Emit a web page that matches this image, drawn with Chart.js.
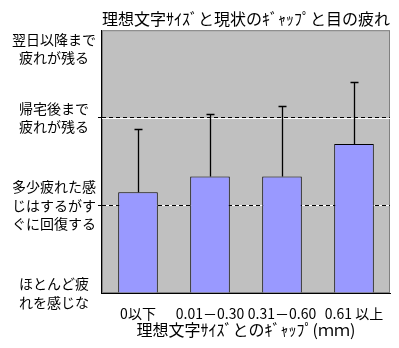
<!DOCTYPE html>
<html>
<head>
  <meta charset="utf-8">
  <title>理想文字ｻｲｽﾞと現状のｷﾞｬｯﾌﾟと目の疲れ</title>
  <script src="https://cdn.jsdelivr.net/npm/chart.js"></script>
  <style>
    html, body { margin: 0; padding: 0; background: #fff; }
    #wrap { width: 399px; height: 348px; position: relative; }
  </style>
</head>
<body>
  <div id="wrap"><canvas id="myChart"></canvas></div>

  <script>
    // ギャップ区分ごとの平均と標準偏差
    const categories = ['0以下', '0.01－0.30', '0.31－0.60', '0.61 以上'];
    const means = [1.15, 1.33, 1.33, 1.70];
    const sds = [0.72, 0.71, 0.81, 0.71];

    // 縦軸 0〜3 の目盛りラベル
    const levelLabels = [
      ['ほとんど疲', 'れを感じな'],
      ['多少疲れた感', 'じはするがす', 'ぐに回復する'],
      ['帰宅後まで', '疲れが残る'],
      ['翌日以降まで', '疲れが残る']
    ];

    Chart.defaults.font.family = "'Noto Sans CJK JP', sans-serif";
    Chart.defaults.color = '#000';

    // グラフ領域の灰色の背景と枠、点線の下地
    const plotBackground = {
      id: 'plotBackground',
      beforeDraw(chart) {
        const { ctx, chartArea: a, scales } = chart;
        ctx.save();
        ctx.fillStyle = '#fff';
        ctx.fillRect(0, 0, chart.width, chart.height);
        ctx.fillStyle = '#c0c0c0';
        ctx.fillRect(a.left, a.top, a.right - a.left, a.bottom - a.top);
        ctx.strokeStyle = '#808080';
        ctx.lineWidth = 1;
        ctx.strokeRect(a.left + 0.5, a.top + 0.5, a.right - a.left - 1, a.bottom - a.top - 1);
        ctx.strokeStyle = '#fff';
        [1, 2].forEach(v => {
          const y = Math.round(scales.y.getPixelForValue(v)) + 0.5;
          ctx.beginPath();
          ctx.moveTo(a.left, y);
          ctx.lineTo(a.right, y);
          ctx.stroke();
        });
        ctx.restore();
      }
    };

    // 上側だけのエラーバー
    const errorBars = {
      id: 'errorBars',
      afterDatasetsDraw(chart) {
        const { ctx, scales } = chart;
        const meta = chart.getDatasetMeta(0);
        ctx.save();
        ctx.strokeStyle = '#000';
        ctx.lineWidth = 1.3;
        meta.data.forEach((bar, i) => {
          const x = Math.round(bar.x) + 0.5;
          const yEnd = Math.round(scales.y.getPixelForValue(means[i] + sds[i])) + 0.5;
          ctx.beginPath();
          ctx.moveTo(x, bar.y);
          ctx.lineTo(x, yEnd);
          ctx.moveTo(x - 4, yEnd);
          ctx.lineTo(x + 4, yEnd);
          ctx.stroke();
        });
        ctx.restore();
      }
    };

    const ctx = document.getElementById('myChart').getContext('2d');
    const myChart = new Chart(ctx, {
      type: 'bar',
      data: {
        labels: categories,
        datasets: [{
          data: means,
          backgroundColor: '#9999ff',
          borderColor: '#000',
          borderWidth: 1,
          barPercentage: 0.55,
          categoryPercentage: 1
        }]
      },
      options: {
        responsive: true,
        maintainAspectRatio: false,
        animation: false,
        layout: { padding: { left: 10, right: 9, top: 0, bottom: 0 } },
        plugins: {
          legend: { display: false },
          tooltip: { enabled: false },
          title: {
            display: true,
            fullSize: false,
            text: '理想文字ｻｲｽﾞと現状のｷﾞｬｯﾌﾟと目の疲れ',
            color: '#000',
            font: { size: 16, weight: 'normal', lineHeight: 1.2 },
            padding: { top: 9, bottom: 2 }
          }
        },
        scales: {
          x: {
            grid: { display: false, drawTicks: false },
            border: { display: true, color: '#000', width: 1 },
            ticks: { padding: 12, font: { size: 14, lineHeight: 1.2 }, maxRotation: 0 },
            title: {
              display: true,
              text: '理想文字ｻｲｽﾞとのｷﾞｬｯﾌﾟ(ｍｍ)',
              color: '#000',
              font: { size: 16, lineHeight: 1.2 },
              padding: { top: 0, bottom: 8 }
            },
            // 目盛りラベルと軸タイトルを含めた下側の高さ
            afterFit: scale => {
              scale.height = 55;
            }
          },
          y: {
            min: 0,
            max: 3,
            grid: {
              color: c => (c.tick && (c.tick.value === 1 || c.tick.value === 2)) ? '#000' : 'rgba(0,0,0,0)',
              tickColor: c => (c.tick && (c.tick.value === 1 || c.tick.value === 2)) ? '#000' : 'rgba(0,0,0,0)',
              tickLength: 4,
              lineWidth: 1
            },
            border: { display: true, color: '#000', width: 1, dash: [4, 3] },
            ticks: {
              stepSize: 1,
              padding: 2,
              crossAlign: 'center',
              font: { size: 14, lineHeight: 1.32 },
              callback: v => {
                const lines = levelLabels[v];
                if (!lines) return '';
                // 最上段は枠内に収まるよう下へずらす
                return v === 3 ? ['', ''].concat(lines) : lines;
              }
            },
            afterFit: scale => {
              scale.paddingTop = 0;
              scale.paddingBottom = 0;
            }
          }
        }
      },
      plugins: [plotBackground, errorBars]
    });
  </script>
</body>
</html>
